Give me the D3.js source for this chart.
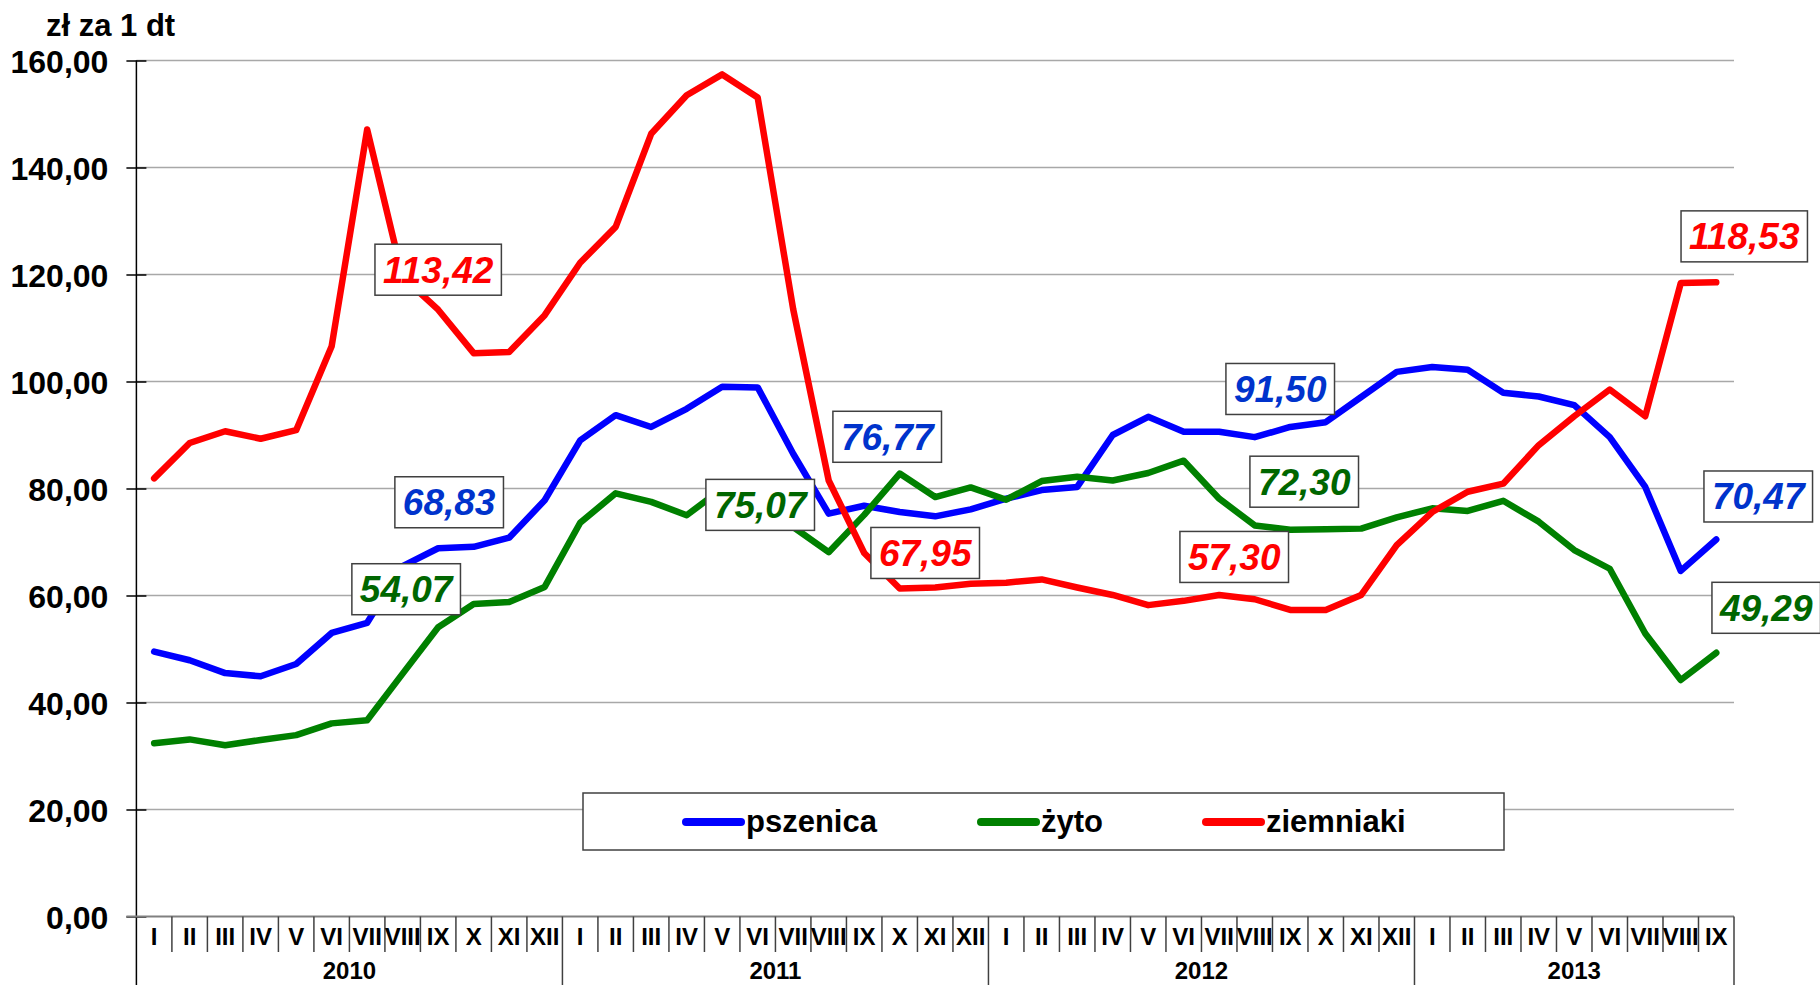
<!DOCTYPE html>
<html>
<head>
<meta charset="utf-8">
<script src="https://cdn.jsdelivr.net/npm/d3@7"></script>
<style>
    body { margin: 0; background: #fff; }
    svg { display: block; font-family: "Liberation Sans", Arial, sans-serif; }
</style>
</head>
<body>
<svg id="chart" width="1820" height="985"></svg>
<script>
// ============================================================================
// DATA - average prices, zł za 1 dt
// ============================================================================

const monthNames = ["I", "II", "III", "IV", "V", "VI", "VII", "VIII", "IX", "X", "XI", "XII"];
const years = ["2010", "2011", "2012", "2013"];
const monthsInYear = [12, 12, 12, 9];
const yTicks = [0, 20, 40, 60, 80, 100, 120, 140, 160];

const pszenica = [
    49.5, 47.9, 45.5, 44.9, 47.2, 53.0, 54.9, 65.5, 68.83, 69.1, 70.8, 77.8,
    89.0, 93.7, 91.5, 94.9, 99.0, 98.9, 86.5, 75.3, 76.77, 75.6, 74.8, 76.1,
    78.1, 79.7, 80.3, 90.0, 93.4, 90.6, 90.6, 89.6, 91.50, 92.4, 97.1, 101.8,
    102.7, 102.2, 97.9, 97.2, 95.6, 89.6, 80.3, 64.6, 70.47
];
const zyto = [
    32.4, 33.1, 32.0, 33.0, 33.9, 36.1, 36.7, 45.4, 54.07, 58.4, 58.8, 61.6,
    73.6, 79.1, 77.5, 75.0, 80.0, 78.0, 72.8, 68.1, 75.07, 82.8, 78.4, 80.2,
    77.9, 81.4, 82.2, 81.5, 82.9, 85.2, 78.1, 73.1, 72.30, 72.4, 72.5, 74.6,
    76.3, 75.8, 77.7, 73.8, 68.5, 65.0, 52.9, 44.2, 49.29
];
const ziemniaki = [
    81.9, 88.5, 90.7, 89.3, 90.9, 106.6, 147.1, 119.5, 113.42, 105.3, 105.5, 112.4,
    122.2, 128.9, 146.3, 153.5, 157.4, 153.1, 113.5, 81.5, 67.95, 61.3, 61.5, 62.2,
    62.4, 63.0, 61.5, 60.1, 58.2, 59.0, 60.1, 59.3, 57.30, 57.3, 60.1, 69.4,
    75.6, 79.4, 80.9, 88.1, 93.5, 98.5, 93.5, 118.4, 118.53
];

const seriesNames = ["pszenica", "żyto", "ziemniaki"];
const seriesValues = [pszenica, zyto, ziemniaki];

// months that carry a value label (September of each year)
const labelledMonths = [8, 20, 32, 44];

// ============================================================================
// LAYOUT
// ============================================================================

const COLORS = ["#0000ff", "#008000", "#ff0000"];
const LABEL_COLORS = ["#0033cc", "#006600", "#ff0000"];

const svg = d3.select("#chart");
const plotLeft = 136.4, plotRight = 1734, plotTop = 60.5, plotBottom = 916.5;

// category keys "2010-I" ...
const categories = [];
years.forEach((yr, yi) => {
    for (let m = 0; m < monthsInYear[yi]; m++) categories.push(`${yr}-${monthNames[m]}`);
});

const x = d3.scaleBand().domain(categories).range([plotLeft, plotRight]).padding(0);
const xc = i => x(categories[i]) + x.bandwidth() / 2;
const y = d3.scaleLinear().domain([0, 160]).range([plotBottom, plotTop]);

const fmt = v => d3.format(".2f")(v).replace(".", ",");

// Gridlines
svg.append("g")
    .selectAll("line")
    .data(yTicks.filter(d => d > 0))
    .enter()
    .append("line")
    .attr("x1", plotLeft).attr("x2", plotRight)
    .attr("y1", d => y(d)).attr("y2", d => y(d))
    .attr("stroke", "#a8a8a8")
    .attr("stroke-width", 1.5);

// Y axis
const yAxis = svg.append("g")
    .attr("transform", `translate(${plotLeft},0)`)
    .call(d3.axisLeft(y).tickValues(yTicks).tickSize(10).tickFormat(fmt));
yAxis.select(".domain").remove();
yAxis.selectAll(".tick line")
    .attr("x2", -10).attr("x1", 10)
    .attr("stroke", "#000").attr("stroke-width", 1.5);
yAxis.selectAll(".tick text")
    .attr("x", -28)
    .attr("dy", "0.36em")
    .style("font-size", "32px")
    .style("font-weight", "bold")
    .style("fill", "#000");

svg.append("line")
    .attr("x1", plotLeft).attr("x2", plotLeft)
    .attr("y1", plotTop).attr("y2", 985)
    .attr("stroke", "#000").attr("stroke-width", 1.5);

// X axis line
svg.append("line")
    .attr("x1", plotLeft - 10).attr("x2", plotRight)
    .attr("y1", plotBottom).attr("y2", plotBottom)
    .attr("stroke", "#808080").attr("stroke-width", 2);

// Month separators and labels
const xAxis = svg.append("g");
categories.forEach((c, i) => {
    if (i > 0) {
        const isYearStart = monthNames.indexOf(c.split("-")[1]) === 0;
        xAxis.append("line")
            .attr("x1", x(c)).attr("x2", x(c))
            .attr("y1", plotBottom).attr("y2", isYearStart ? 985 : 952)
            .attr("stroke", "#404040").attr("stroke-width", 1.5);
    }
    xAxis.append("text")
        .attr("x", xc(i))
        .attr("y", 945)
        .attr("text-anchor", "middle")
        .style("font-size", "24px")
        .style("font-weight", "bold")
        .text(c.split("-")[1]);
});
xAxis.append("line")
    .attr("x1", plotRight).attr("x2", plotRight)
    .attr("y1", plotBottom).attr("y2", 985)
    .attr("stroke", "#404040").attr("stroke-width", 1.5);

// Year labels
let start = 0;
years.forEach((yr, yi) => {
    const a = x(categories[start]);
    const b = x(categories[start + monthsInYear[yi] - 1]) + x.bandwidth();
    xAxis.append("text")
        .attr("x", (a + b) / 2)
        .attr("y", 979)
        .attr("text-anchor", "middle")
        .style("font-size", "24px")
        .style("font-weight", "bold")
        .text(yr);
    start += monthsInYear[yi];
});

// Unit title
svg.append("text")
    .attr("x", 46).attr("y", 36)
    .style("font-size", "31px")
    .style("font-weight", "bold")
    .text("zł za 1 dt");

// Lines
const line = d3.line()
    .x((d, i) => xc(i))
    .y(d => y(d));

seriesValues.forEach((vals, s) => {
    svg.append("path")
        .datum(vals)
        .attr("fill", "none")
        .attr("stroke", COLORS[s])
        .attr("stroke-width", 6.5)
        .attr("stroke-linejoin", "round")
        .attr("stroke-linecap", "round")
        .attr("d", line);
});

// Value labels - box centre offsets from the point, placed by hand
const labelOffsets = [
    // pszenica, żyto, ziemniaki
    [[11, -46], [-32, -38], [0, -40]],
    [[23, -69], [-104, -10], [61, 0]],
    [[-10, -38], [14, -48], [-56, -53]],
    [[42, -43], [50, -45], [28, -46]]
];

labelledMonths.forEach((m, li) => {
    seriesValues.forEach((vals, s) => {
        const [dx, dy] = labelOffsets[li][s];
        const cx = xc(m) + dx;
        const cy = y(vals[m]) + dy;
        const g = svg.append("g");
        const rect = g.append("rect");
        const t = g.append("text")
            .attr("x", cx)
            .attr("y", cy + 13)
            .attr("text-anchor", "middle")
            .style("font-size", "37px")
            .style("font-weight", "bold")
            .style("font-style", "italic")
            .style("fill", LABEL_COLORS[s])
            .text(fmt(vals[m]));
        const w = t.node().getComputedTextLength() + 16;
        rect.attr("x", cx - w / 2).attr("y", cy - 25.5)
            .attr("width", w).attr("height", 51)
            .attr("fill", "#fff")
            .attr("stroke", "#404040")
            .attr("stroke-width", 1.5);
    });
});

// Legend
const legend = svg.append("g");
legend.append("rect")
    .attr("x", 583).attr("y", 793)
    .attr("width", 921).attr("height", 57)
    .attr("fill", "#fff")
    .attr("stroke", "#404040")
    .attr("stroke-width", 1.5);

const legendX = [686, 981, 1206];
seriesNames.forEach((name, s) => {
    legend.append("line")
        .attr("x1", legendX[s]).attr("x2", legendX[s] + 55)
        .attr("y1", 822).attr("y2", 822)
        .attr("stroke", COLORS[s])
        .attr("stroke-width", 8)
        .attr("stroke-linecap", "round");
    legend.append("text")
        .attr("x", legendX[s] + 60)
        .attr("y", 832)
        .style("font-size", "31px")
        .style("font-weight", "bold")
        .text(name);
});
</script>
</body>
</html>
